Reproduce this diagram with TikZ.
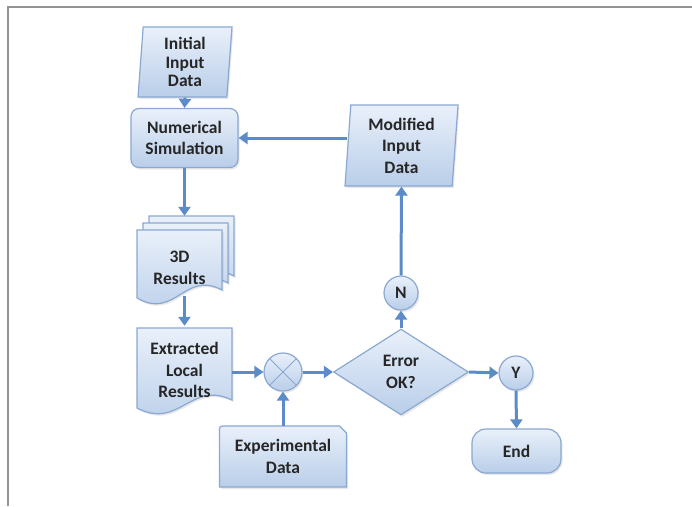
\documentclass[tikz,border=0pt]{standalone}
\usepackage{fontspec}
\setmainfont{Carlito}
\usetikzlibrary{shapes.geometric,arrows.meta,calc,shadows}

\definecolor{boxtop}{HTML}{E9F0FA}
\definecolor{boxbot}{HTML}{B9CEE9}
\definecolor{boxline}{HTML}{8AA8D1}
\definecolor{flowblue}{HTML}{5B8BC9}

% sheet with a wavy lower edge: centre x, centre y, width, height
\newcommand{\docsheet}[4]{%
  \path[shade box] ({#1-#3/2},{#2-#4/2}) -- ({#1+#3/2},{#2-#4/2})
    -- ({#1+#3/2},{#2+#4/2-16})
    .. controls ({#1+#3/2-0.44*#3},{#2+#4/2-36}) and ({#1-#3/2+0.45*#3},{#2+#4/2+14})
    .. ({#1-#3/2},{#2+#4/2-8}) -- cycle;}

\begin{document}
\begin{tikzpicture}[x=1pt, y=-1pt,
    font=\fontsize{17.5}{21.5}\selectfont\bfseries, text=black!85,
    shade box/.style={draw=boxline, line width=1.2pt, top color=boxtop, bottom color=boxbot,
        drop shadow={opacity=0.18, shadow xshift=1.5pt, shadow yshift=-2pt}},
    io/.style={shade box, trapezium, trapezium left angle=84, trapezium right angle=96,
        trapezium stretches body=true, minimum width=94pt, minimum height=70pt,
        align=center, inner sep=0pt},
    proc/.style={shade box, rounded corners=8pt, minimum width=107pt, minimum height=59pt, align=center},
    label box/.style={minimum width=#1, minimum height=76pt, align=center, inner sep=0pt},
    dot/.style={shade box, circle, minimum size=34pt, inner sep=0pt},
    flow/.style={draw=flowblue, line width=3pt, -{Triangle[length=9pt, width=12pt]}}]

    \useasboundingbox (0,0) rectangle (692,506);
    % frame
    \draw[gray!85, line width=2pt] (8,506) -- (8,7) -- (692,7);

    % left column
    \node[io, font=\fontsize{17.5}{18.5}\selectfont\bfseries] (init) at (185,62) {Initial\\Input\\Data};
    \node[proc] (num) at (184.5,138) {Numerical\\Simulation};

    \docsheet{191.5}{254}{85}{76}
    \docsheet{185.5}{261}{85}{76}
    \docsheet{179.5}{268}{85}{76}
    \node[label box=85pt] (res3) at (191.5,254) {};
    \node[label box=85pt] (res) at (179.5,268) {3D\\Results};

    \docsheet{184.5}{372}{95}{88}
    \node[label box=95pt, minimum height=88pt] (extr) at (184.5,370) {Extracted\\Local\\Results};

    % comparison
    \node[shade box, circle, minimum size=38pt, inner sep=0pt,
        path picture={\draw[boxline, line width=1pt]
            (path picture bounding box.north west) -- (path picture bounding box.south east)
            (path picture bounding box.north east) -- (path picture bounding box.south west);}]
        (mix) at (283,372) {};

    \path[shade box] (219.5,487) -- (219.5,432) .. controls (219.5,426) .. (225.5,426)
        -- (339.5,426) -- (346.5,433) -- (346.5,487) -- cycle;
    \node[minimum width=127pt, minimum height=61pt, align=center, inner sep=0pt]
        (exp) at (283,456.5) {Experimental\\Data};

    % decision
    \node[shade box, diamond, shape aspect=1.6, minimum width=135pt, minimum height=86pt,
        inner sep=1pt, align=center] (err) at (401,372) {Error\\OK?};
    \node[dot] (no) at (401,293) {N};
    \node[io, minimum width=113pt, minimum height=81pt] (mod) at (401.5,145.5) {Modified\\Input\\Data};
    \node[dot] (yes) at (516,373) {Y};
    \node[shade box, rounded corners=14pt, minimum width=89pt, minimum height=44pt] (fin) at (516.5,451) {End};

    % connectors
    \draw[flow] (init.south) -- (num.north);
    \draw[flow] (num.east -| mod.west) -- (num.east);
    \draw[flow] (num.south) -- (num.south |- res3.north);
    \draw[flow] ($(extr.north |- res.south)+(0,-10)$) -- (extr.north);
    \draw[flow] (extr.east |- mix.west) -- (mix.west);
    \draw[flow] (exp.north) -- (mix.south);
    \draw[flow] (mix.east) -- (err.west);
    \draw[flow] (err.north) -- (no.south);
    \draw[flow] (no.north) -- (mod.south);
    \draw[flow] (err.east) -- (yes.west);
    \draw[flow] (yes.south) -- (fin.north);
\end{tikzpicture}
\end{document}
